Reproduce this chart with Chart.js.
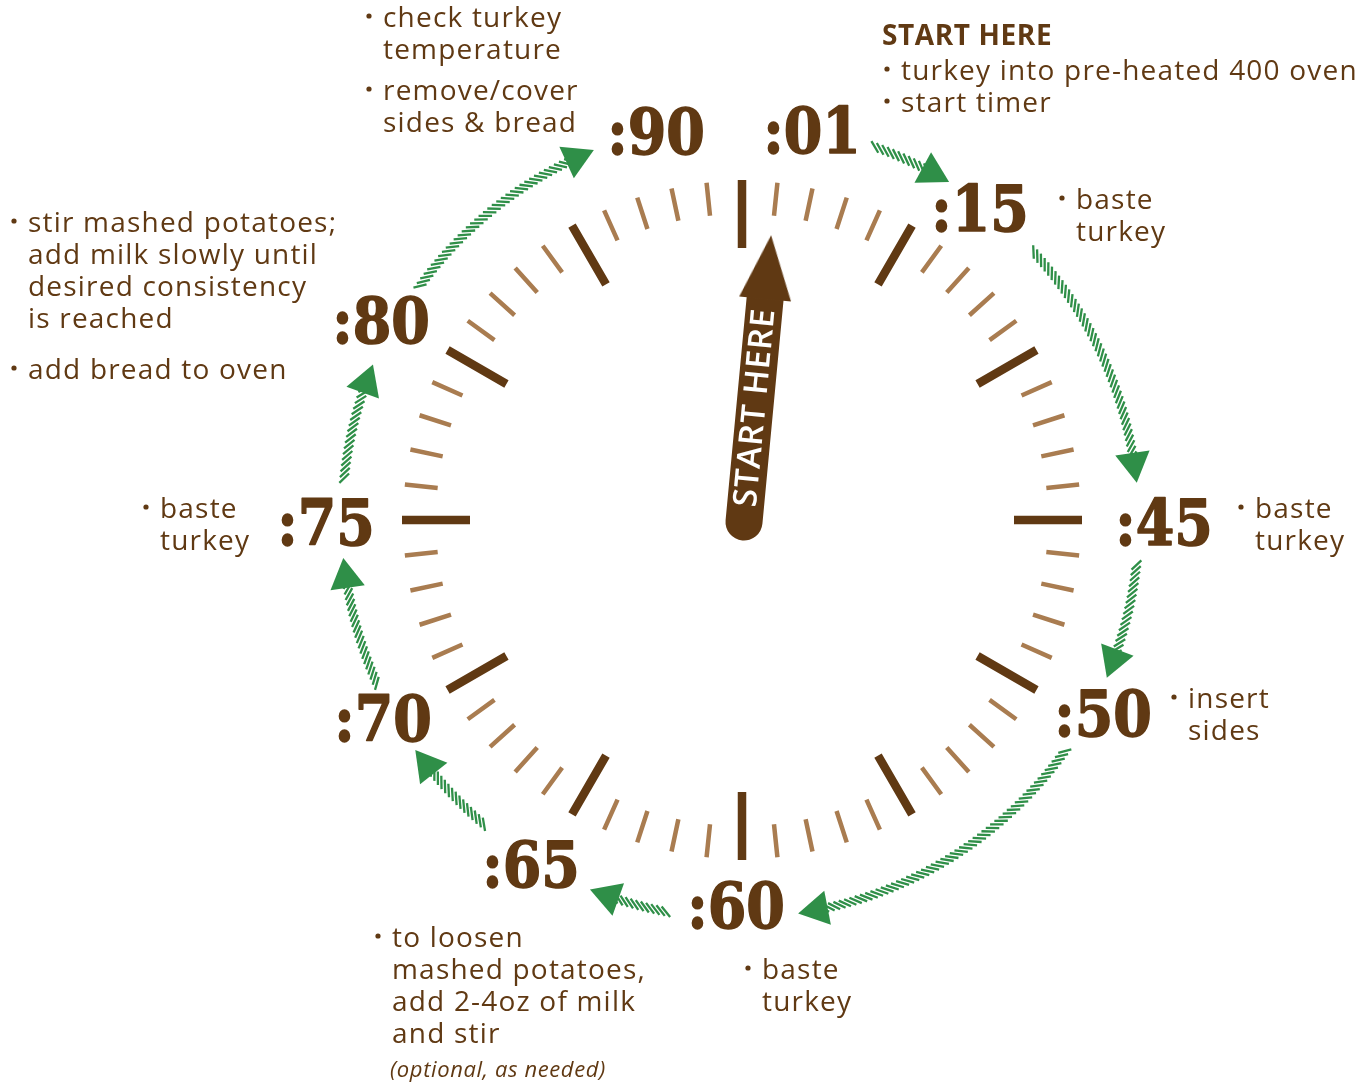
<!DOCTYPE html>
<html><head><meta charset="utf-8">
<script src="https://cdn.jsdelivr.net/npm/chart.js@4.4.1/dist/chart.umd.min.js"></script>
<style>html,body{margin:0;padding:0;background:#fff;overflow:hidden}canvas{display:block}</style>
</head><body>
<canvas id="c" width="1372" height="1082"></canvas>
<script>
// ================= DATA =================
// dial tick marks (minute positions on the clock face)
const tickMinutes = [0,1,2,3,4,5,6,7,8,9,10,11,12,13,14,15,16,17,18,19,20,21,22,23,24,25,26,27,28,29,
                     30,31,32,33,34,35,36,37,38,39,40,41,42,43,44,45,46,47,48,49,50,51,52,53,54,55,56,57,58,59];
const majorEvery = 5;
// timeline steps shown around the dial
const stepLabels = [':01', ':15', ':45', ':50', ':60', ':65', ':70', ':75', ':80', ':90'];
// the "START HERE" hand points at minute
const handMinute = 0.9;
const handText = 'START HERE';
// notes (a leading "• " marks a bullet)
const noteLines = [
  'START HERE',
  '• turkey into pre-heated 400 oven', '• start timer',
  '• check turkey', 'temperature', '• remove/cover', 'sides & bread',
  '• stir mashed potatoes;', 'add milk slowly until', 'desired consistency', 'is reached', '• add bread to oven',
  '• baste', 'turkey',
  '• baste', 'turkey',
  '• insert', 'sides',
  '• baste', 'turkey',
  '• to loosen', 'mashed potatoes,', 'add 2-4oz of milk', 'and stir', '(optional, as needed)',
  '• baste', 'turkey'
];

// ================= LAYOUT =================
const CX = 742, CY = 520;             // dial centre on the page
const W = 1372, H = 1082;
// label centres (page px)
const labelPos = [[812,130],[980,208],[1164,522],[1103,713],[736,905],[531,864],[383,718],[326,522],[381,320],[656,131]];
// arrow arcs: start angle, arrow-head angle, radius (deg clockwise from top)
const arcFrom = [19.6, 47.4, 96.5, 125.6, 191, 220.3, 245.9, 276, 306];
const arcHead = [28.6, 81.7, 110.5, 169, 199.5, 232, 261.7, 290, 335.3];
const arcR    = [396, 396, 397, 397, 399, 399, 400, 400, 398];
// note line anchors: [text-left x, baseline y, style]
const notePos = [
  [882,45,'h'],
  [901,80],[901,112],
  [383,27],[383,59],[383,100],[383,132],
  [28,232],[28,264],[28,296],[28,328],[28,379],
  [1076,209],[1076,241],
  [1255,518],[1255,550],
  [1188,708],[1188,740],
  [762,979],[762,1011],
  [392,947],[392,979],[392,1011],[392,1043],[390,1077,'i'],
  [160,518],[160,550]
];
const COL = {dark:'#603913', light:'#a97c50', green:'#2f8f48', white:'#ffffff'};

// ================= HELPERS =================
const rad = d => d * Math.PI / 180;
const polar = (deg, r) => ({x: r * Math.sin(rad(deg)), y: r * Math.cos(rad(deg))});
const gap = () => ({x: 0, y: null});

function tickSegments(isMajor, r1, r2) {
  const out = [];
  tickMinutes.forEach(m => {
    if ((m % majorEvery === 0) !== isMajor) return;
    out.push(polar(m * 6, r1), polar(m * 6, r2), gap());
  });
  return out;
}
const STRIPE_GAP = 5.6, STRIPE_LEN = 13.5, STRIPE_TILT = 40;
function hatch() {
  const out = [];
  arcFrom.forEach((a0, i) => {
    const a1 = arcHead[i], r = arcR[i];
    const len = rad(a1 - a0) * r;
    const n = Math.max(1, Math.round(len / STRIPE_GAP));
    for (let k = 0; k <= n; k++) {
      const th = a0 + (a1 - a0) * k / n;
      const c = polar(th, r);
      const sa = rad(th + STRIPE_TILT);      // screen angle of stripe
      const dx = Math.cos(sa) * STRIPE_LEN / 2, dy = -Math.sin(sa) * STRIPE_LEN / 2;
      out.push({x: c.x - dx, y: c.y - dy}, {x: c.x + dx, y: c.y + dy}, gap());
    }
  });
  return out;
}
const heads = arcHead.map((a, i) => polar(a, arcR[i]));
const headRot = arcHead.map(a => a + 90);

const handDeg = handMinute * 6;
const handBase = {x: 2, y: -2};
const hp = r => { const p = polar(handDeg, r); return {x: p.x + handBase.x, y: p.y + handBase.y}; };

// arrow-head image for the hand
const headImg = document.createElement('canvas');
headImg.width = 52; headImg.height = 64;
(() => { const g = headImg.getContext('2d'); g.fillStyle = COL.dark; g.beginPath();
  g.moveTo(26, 0); g.lineTo(52, 64); g.lineTo(0, 64); g.closePath(); g.fill(); })();

// ================= TEXT PLUGIN =================
const textPlugin = {
  id: 'dialText',
  afterDatasetsDraw(chart) {
    const ctx = chart.ctx, xs = chart.scales.x, ys = chart.scales.y;
    const px = (sx) => xs.getPixelForValue(sx - CX);
    const py = (sy) => ys.getPixelForValue(CY - sy);
    ctx.save();
    // hand text
    const tc = hp(115);
    ctx.save();
    ctx.translate(xs.getPixelForValue(tc.x), ys.getPixelForValue(tc.y));
    ctx.rotate(rad(handDeg - 90));
    ctx.fillStyle = COL.white;
    ctx.font = '600 33px "Open Sans"';
    try { ctx.letterSpacing = '1px'; } catch (e) {}
    ctx.textAlign = 'center'; ctx.textBaseline = 'middle';
    ctx.fillText(handText, 0, 1);
    ctx.restore();
    // step labels
    ctx.fillStyle = COL.dark;
    ctx.strokeStyle = COL.dark;
    stepLabels.forEach((t, i) => {
      ctx.save();
      ctx.translate(px(labelPos[i][0]), py(labelPos[i][1]) + 23);
      ctx.scale(0.88, 1);
      ctx.font = 'bold 63px "DejaVu Serif"';
      try { ctx.letterSpacing = '0px'; } catch (e) {}
      ctx.textAlign = 'center'; ctx.textBaseline = 'alphabetic';
      ctx.lineWidth = 1.6; ctx.lineJoin = 'round';
      ctx.fillText(t, 0, 0);
      ctx.strokeText(t, 0, 0);
      ctx.restore();
    });
    // notes
    noteLines.forEach((t, i) => {
      const [x, y, st] = notePos[i];
      let txt = t;
      ctx.textAlign = 'left'; ctx.textBaseline = 'alphabetic';
      if (st === 'h') { ctx.font = 'bold 28px "Open Sans"'; try { ctx.letterSpacing = '0.6px'; } catch (e) {} }
      else if (st === 'i') { ctx.font = 'italic 22px "Open Sans"'; try { ctx.letterSpacing = '0.6px'; } catch (e) {} }
      else { ctx.font = '28px "Open Sans"'; try { ctx.letterSpacing = '1.2px'; } catch (e) {} }
      if (txt.startsWith('• ')) {
        txt = txt.slice(2);
        ctx.beginPath(); ctx.arc(px(x - 14), py(y - 11), 2.6, 0, Math.PI * 2); ctx.fill();
      }
      ctx.fillText(txt, px(x), py(y));
    });
    ctx.restore();
  }
};

// ================= CHART =================
const solid = [1000, 0];
new Chart(document.getElementById('c'), {
  type: 'scatter',
  data: {
    datasets: [
      { label: 'minor ticks', data: tickSegments(false, 306, 339), showLine: true, spanGaps: false,
        borderColor: COL.light, borderWidth: 4.5, borderDash: solid, pointRadius: 0, order: 6 },
      { label: 'major ticks', data: tickSegments(true, 272, 340), showLine: true, spanGaps: false,
        borderColor: COL.dark, borderWidth: 8.5, borderDash: solid, pointRadius: 0, order: 5 },
      { label: 'arrow path', data: hatch(), showLine: true, spanGaps: false,
        borderColor: COL.green, borderWidth: 2.3, borderDash: solid, pointRadius: 0, order: 4 },
      { label: 'arrow heads', data: heads, showLine: false, pointStyle: 'triangle', pointRadius: 20,
        pointRotation: headRot, backgroundColor: COL.green, borderWidth: 0, pointBorderWidth: 0, order: 3 },
      { label: 'hand', data: [hp(0), hp(232)], showLine: true, borderColor: COL.dark, borderWidth: 37,
        borderCapStyle: 'round', borderDash: solid, pointRadius: 0, order: 2 },
      { label: 'hand head', data: [hp(256)], showLine: false, pointStyle: headImg, pointRadius: 10,
        pointRotation: handDeg, order: 1 }
    ]
  },
  options: {
    responsive: false, animation: false, devicePixelRatio: 1,
    layout: { padding: 0, autoPadding: false }, events: [],
    plugins: { legend: { display: false }, tooltip: { enabled: false } },
    scales: {
      x: { type: 'linear', min: -CX, max: W - CX, display: false },
      y: { type: 'linear', min: CY - H, max: CY, display: false }
    }
  },
  plugins: [textPlugin]
});
</script>
</body></html>
